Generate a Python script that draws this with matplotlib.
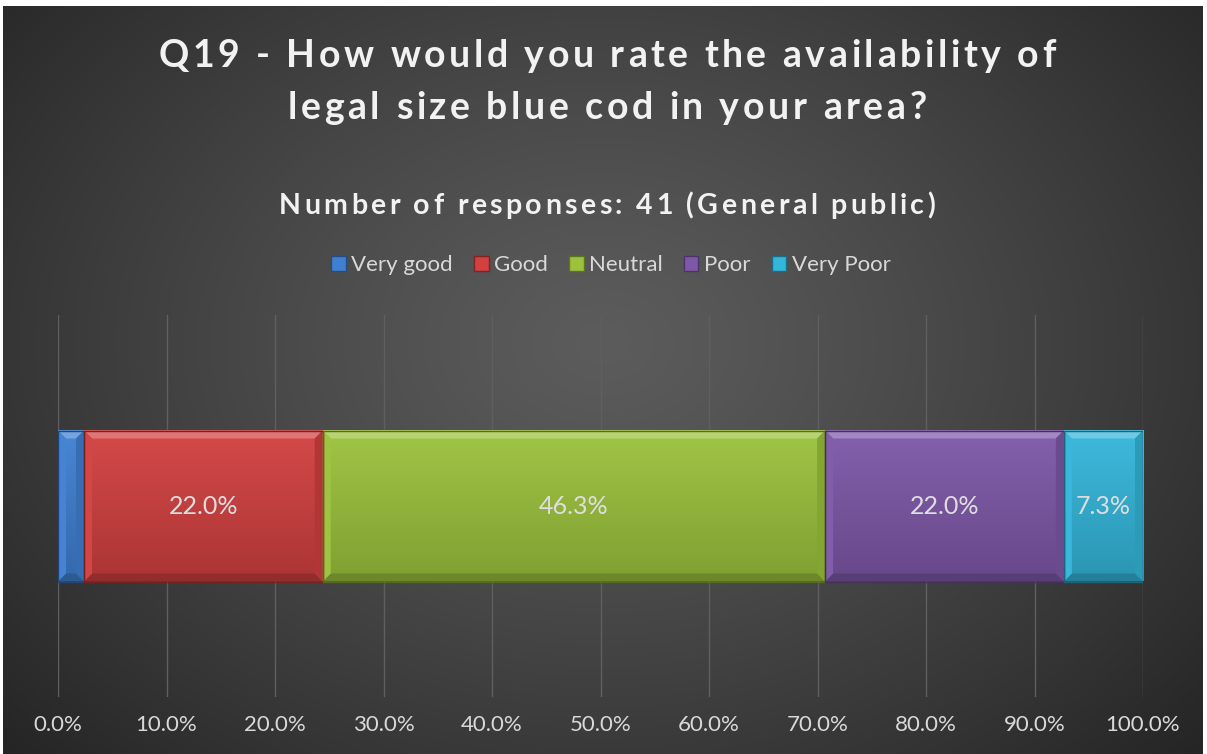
import numpy as np
import matplotlib
matplotlib.use("Agg")
import matplotlib.pyplot as plt
from matplotlib.patches import Polygon, Rectangle, Patch
from matplotlib.colors import to_rgb

# ---------------- data ----------------
categories = ["Very good", "Good", "Neutral", "Poor", "Very Poor"]
values = [2.4, 22.0, 46.3, 22.0, 7.3]          # percent of responses
show_label = [False, True, True, True, True]
colors = ["#3f80d2", "#d24040", "#9cc23c", "#7e58a8", "#34b6da"]
xticks = [0, 10, 20, 30, 40, 50, 60, 70, 80, 90, 100]
xticklabels = [f"{t:.1f}%" for t in xticks]
title_lines = ["Q19 - How would you rate the availability of",
               "legal size blue cod in your area?"]
subtitle = "Number of responses: 41 (General public)"

FONT = "Lato"
W, H = 1207, 754
fig = plt.figure(figsize=(W / 100, H / 100), dpi=100)
fig.patch.set_facecolor("white")

# ---------------- background ----------------
bg = fig.add_axes([3 / W, 0, 1 - 7 / W, 1 - 6 / H])
bg.set_axis_off()
ny, nx = 300, 480
yy, xx = np.mgrid[0:1:ny * 1j, 0:1:nx * 1j]
r = np.sqrt(((xx - 0.5) / 0.5) ** 2 + ((yy - 0.45) / 0.6) ** 2) / np.sqrt(2)
r = np.clip(r, 0, 1)
c_in = np.array(to_rgb("#5c5c5c"))
c_out = np.array(to_rgb("#222222"))
img = c_in[None, None, :] * (1 - r[..., None] ** 1.2) + c_out[None, None, :] * (r[..., None] ** 1.2)
bg.imshow(img, extent=(0, 1, 0, 1), aspect="auto", origin="upper")
bg.set_xlim(0, 1)
bg.set_ylim(0, 1)

# ---------------- main axes ----------------
ax_l, ax_r = 58 / W, 1143 / W
ax_b, ax_t = 1 - 697 / H, 1 - 315 / H
ax = fig.add_axes([ax_l, ax_b, ax_r - ax_l, ax_t - ax_b])
ax.set_facecolor("none")
ax.set_xlim(0, 100)
ax.set_ylim(-0.5, 0.5)
for s in ax.spines.values():
    s.set_visible(False)
ax.set_yticks([])
ax.set_xticks(xticks)
ax.set_xticklabels(xticklabels, fontsize=16, color="#d9d9d9", family=FONT)
ax.tick_params(axis="x", length=0, pad=13)
ax.grid(axis="x", color="#5f5f5f", lw=1)
ax.set_axisbelow(True)

bar_h = 151 / 382
px_x = 100 / 1085
px_y = 1 / 382
bev = 8


def shade(c, f):
    c = np.array(to_rgb(c))
    if f > 0:
        return tuple(c + (1 - c) * f)
    return tuple(c * (1 + f))


left = 0.0
y0, y1 = -bar_h / 2, bar_h / 2
for cat, v, col, lab in zip(categories, values, colors, show_label):
    x0, x1 = left, left + v
    grad = np.linspace(0, 1, 64)[:, None]
    top_c = np.array(shade(col, 0.05))
    bot_c = np.array(shade(col, -0.18))
    gimg = top_c[None, None, :] * (1 - grad[..., None]) + bot_c[None, None, :] * grad[..., None]
    ax.imshow(gimg, extent=(x0, x1, y0, y1), aspect="auto", origin="upper", zorder=3)
    bx = bev * px_x
    by = bev * px_y
    bx = min(bx, v / 2)
    polys = [
        ([(x0, y1), (x1, y1), (x1 - bx, y1 - by), (x0 + bx, y1 - by)], shade(col, 0.28)),
        ([(x0, y0), (x1, y0), (x1 - bx, y0 + by), (x0 + bx, y0 + by)], shade(col, -0.3)),
        ([(x0, y0), (x0, y1), (x0 + bx, y1 - by), (x0 + bx, y0 + by)], shade(col, 0.03)),
        ([(x1, y0), (x1, y1), (x1 - bx, y1 - by), (x1 - bx, y0 + by)], shade(col, -0.15)),
    ]
    for pts, pc in polys:
        ax.add_patch(Polygon(pts, closed=True, facecolor=pc, edgecolor="none", zorder=4))
    ax.add_patch(Rectangle((x0, y0), v, bar_h, fill=False, edgecolor=shade(col, -0.45),
                           lw=1.0, zorder=5))
    if lab:
        ax.text((x0 + x1) / 2, 0, f"{v:.1f}%", ha="center", va="center", fontsize=18,
                color="#dedede", family=FONT, zorder=6)
    left = x1
ax.set_xlim(0, 100)
ax.set_ylim(-0.5, 0.5)

# ---------------- spaced text helper ----------------
fig.canvas.draw()
renderer = fig.canvas.get_renderer()


def text_w(s, size, weight):
    t = fig.text(0, 0, s, fontsize=size, fontweight=weight, family=FONT)
    w = t.get_window_extent(renderer).width
    t.remove()
    return w


def spaced_text(s, xc_px, yc_px, size, weight, spacing, color):
    base = text_w("xx", size, weight)
    widths = [text_w("x" + ch + "x", size, weight) - base for ch in s]
    total = sum(widths) + spacing * (len(s) - 1)
    x = xc_px - total / 2
    for ch, w in zip(s, widths):
        if ch != " ":
            fig.text(x / W, 1 - yc_px / H, ch, fontsize=size, fontweight=weight,
                     family=FONT, color=color, ha="left", va="center")
        x += w + spacing


spaced_text(title_lines[0], 607, 56, 27, "bold", 3.6, "#f2f2f2")
spaced_text(title_lines[1], 607, 108, 27, "bold", 3.6, "#f2f2f2")
spaced_text(subtitle, 607, 206, 20.5, "bold", 3.4, "#f2f2f2")

# ---------------- legend ----------------
handles = [Patch(facecolor=c, edgecolor=shade(c, -0.4)) for c in colors]
fig.legend(handles, categories, loc="center", bbox_to_anchor=(611 / W, 1 - 265 / H),
           ncol=5, frameon=False, labelcolor="#d9d9d9",
           handlelength=0.65, handleheight=0.65, handletextpad=0.25, columnspacing=0.95,
           prop={"family": FONT, "size": 16})

fig.savefig("out.png", dpi=100, facecolor=fig.get_facecolor())
